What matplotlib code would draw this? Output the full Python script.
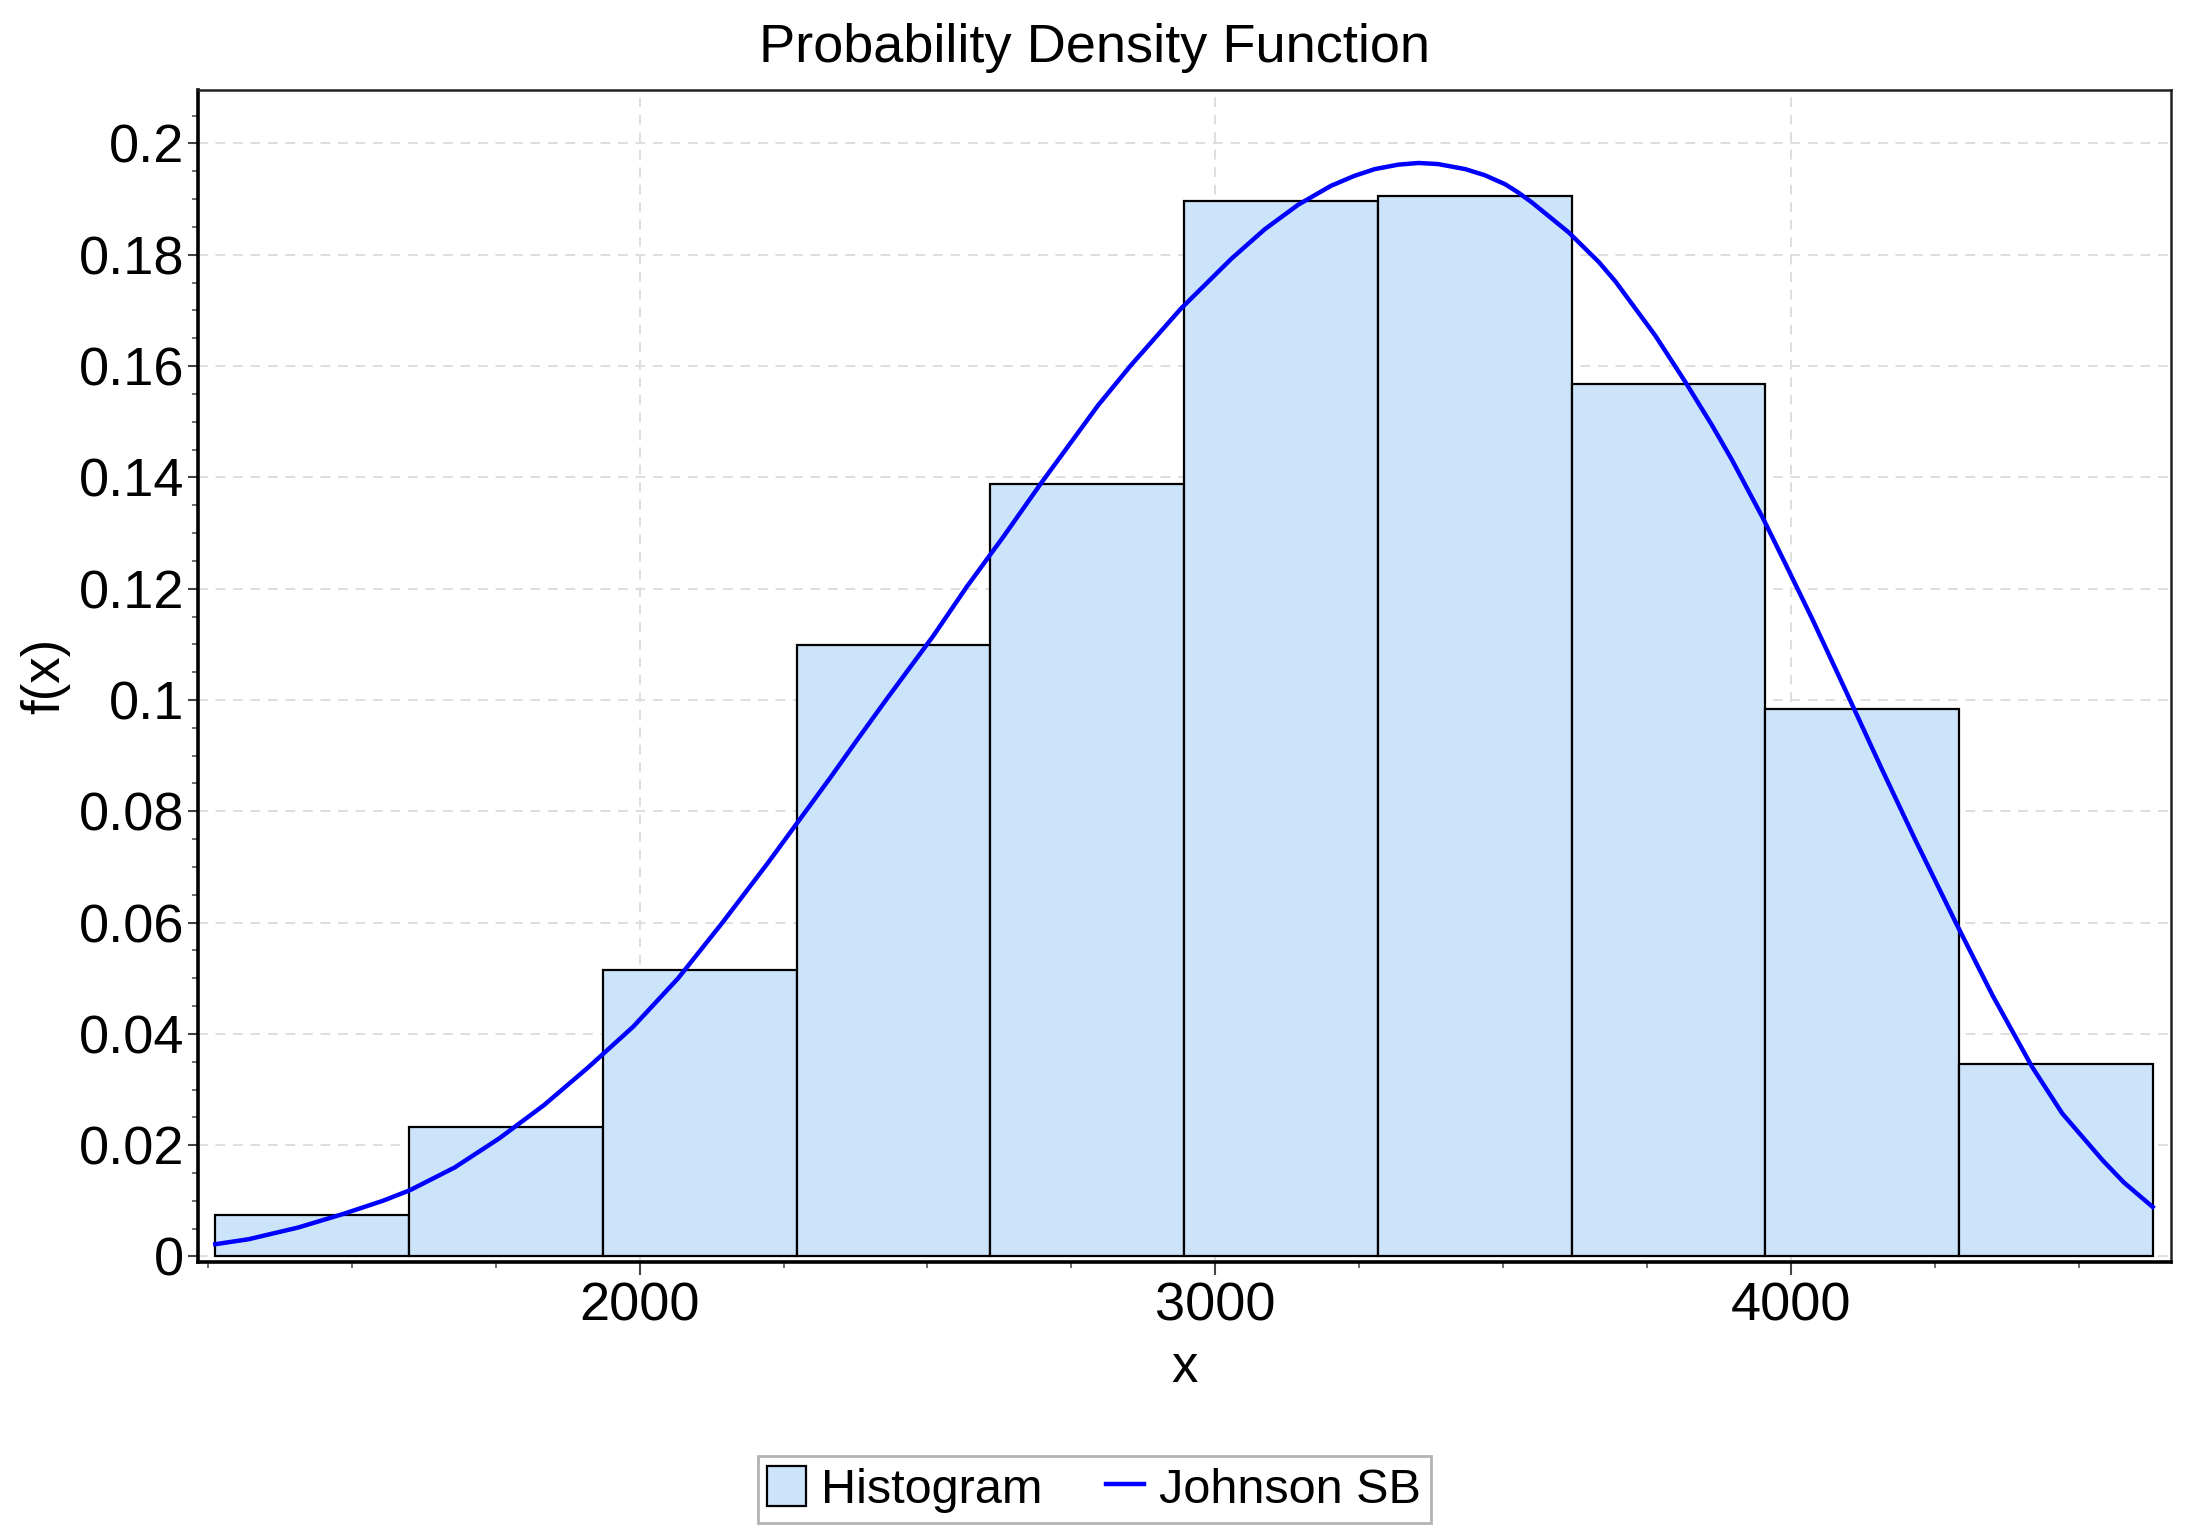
import numpy as np
import matplotlib.pyplot as plt
from matplotlib.ticker import MultipleLocator, FormatStrFormatter
from matplotlib.patches import Patch
from matplotlib.lines import Line2D

plt.rcParams['font.family'] = ['Liberation Sans', 'DejaVu Sans']

# histogram bins (10 bins) and relative frequency per bin
bin_edges = [1263, 1600, 1936, 2273, 2609, 2946, 3282, 3619, 3955, 4292, 4628]
freq = [0.0074, 0.0233, 0.0515, 0.1098, 0.1389, 0.1897, 0.1906, 0.1567, 0.0984, 0.0345]

# fitted Johnson SB curve
fit_x = [1263, 1321, 1407, 1484, 1554, 1601, 1679, 1756, 1834, 1911,
         1989, 2067, 2144, 2222, 2273, 2331, 2377, 2428, 2510, 2568,
         2633, 2697, 2796, 2853, 2940, 3028, 3086, 3144, 3201, 3242,
         3277, 3318, 3353, 3387, 3434, 3468, 3503, 3526, 3550, 3614,
         3666, 3695, 3764, 3816, 3863, 3897, 3951, 3990, 4037, 4083,
         4109, 4158, 4216, 4286, 4350, 4419, 4471, 4541, 4578, 4628]
fit_y = [0.0022, 0.0031, 0.0052, 0.0076, 0.0100, 0.0119, 0.0160, 0.0212, 0.0272, 0.0340,
         0.0413, 0.0500, 0.0600, 0.0706, 0.0778, 0.0860, 0.0927, 0.1000, 0.1115, 0.1203,
         0.1295, 0.1389, 0.1529, 0.1601, 0.1703, 0.1793, 0.1846, 0.1890, 0.1924, 0.1942,
         0.1954, 0.1962, 0.1965, 0.1963, 0.1954, 0.1943, 0.1927, 0.1912, 0.1894, 0.1840,
         0.1787, 0.1752, 0.1655, 0.1572, 0.1493, 0.1432, 0.1327, 0.1245, 0.1145, 0.1043,
         0.0985, 0.0875, 0.0748, 0.0600, 0.0469, 0.0340, 0.0257, 0.0173, 0.0133, 0.0089]

bar_color = '#cce4fa'
line_color = '#0000ff'

fig = plt.figure(figsize=(21.95, 15.37), dpi=100)
ax = fig.add_axes([0.0902, 0.1789, 0.8989, 0.7625])

edges = np.array(bin_edges, dtype=float)
ax.bar(edges[:-1], freq, width=np.diff(edges), align='edge',
       color=bar_color, edgecolor='black', linewidth=1.6, zorder=2)
ax.plot(fit_x, fit_y, color=line_color, linewidth=3.2, zorder=3,
        solid_joinstyle='round')

ax.set_xlim(1233, 4660)
ax.set_ylim(-0.001, 0.2096)

ax.xaxis.set_major_locator(MultipleLocator(1000))
ax.xaxis.set_minor_locator(MultipleLocator(250))
ax.yaxis.set_major_locator(MultipleLocator(0.02))
ax.yaxis.set_minor_locator(MultipleLocator(0.005))
ax.yaxis.set_major_formatter(FormatStrFormatter('%g'))

ax.set_axisbelow(True)
ax.grid(True, which='major', color='#dedede', linestyle=(0, (5, 4)), linewidth=1.4)

ax.tick_params(axis='both', which='major', labelsize=39, color='#444444')
ax.tick_params(axis='x', which='major', length=9, width=1.5, pad=5)
ax.tick_params(axis='y', which='major', length=7, width=1.5, pad=3)
ax.tick_params(axis='both', which='minor', length=4, width=1.2, color='#555555')

for side in ['left', 'bottom']:
    ax.spines[side].set_linewidth(2.6)
    ax.spines[side].set_color('black')
for side in ['top', 'right']:
    ax.spines[side].set_linewidth(1.8)
    ax.spines[side].set_color('#222222')

# title is centred on the whole figure, not on the axes
fig.text(0.4985, 0.969, 'Probability Density Function', fontsize=39,
         ha='center', va='center')
ax.set_xlabel('x', fontsize=38, labelpad=8)
ax.set_ylabel('f(x)', fontsize=38, labelpad=6)

handles = [Patch(facecolor=bar_color, edgecolor='black', linewidth=1.6),
           Line2D([], [], color=line_color, linewidth=3.2)]
leg = fig.legend(handles, ['Histogram', 'Johnson SB'], loc='center',
                 bbox_to_anchor=(0.4985, 0.031), ncol=2, fontsize=35,
                 frameon=True, fancybox=False, edgecolor='#a0a0a0',
                 handlelength=0.8, handleheight=0.9, handletextpad=0.3,
                 columnspacing=1.3, borderpad=0.2, borderaxespad=0)
leg.get_frame().set_linewidth(2)

fig.savefig('out.png', dpi=100)
